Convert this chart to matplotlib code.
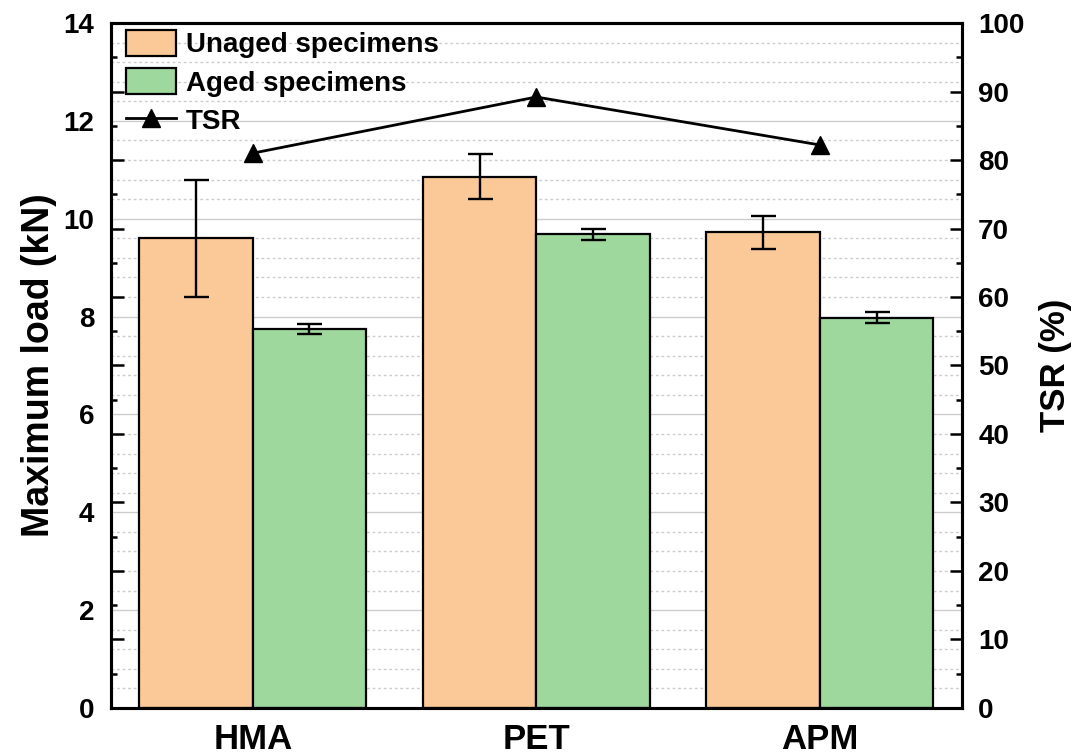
import matplotlib
matplotlib.use("Agg")
import matplotlib.pyplot as plt
from matplotlib.ticker import MultipleLocator
from matplotlib.patches import Patch
from matplotlib.lines import Line2D
import numpy as np

plt.rcParams['font.family'] = ['Liberation Sans', 'DejaVu Sans']
plt.rcParams['font.weight'] = 'bold'

categories = ["HMA", "PET", "APM"]
unaged = [9.60, 10.86, 9.72]
unaged_err = [1.19, 0.46, 0.34]
aged = [7.75, 9.68, 7.98]
aged_err = [0.10, 0.11, 0.11]
tsr = [81.0, 89.2, 82.2]

c_unaged = '#FBC897'
c_aged = '#9FD89D'

fig = plt.figure(figsize=(10.78, 7.55), dpi=100)
ax = fig.add_axes([0.103, 0.0623, 0.789, 0.9072])
x = np.arange(len(categories))
w = 0.4

ax.set_axisbelow(True)
ekw = dict(elinewidth=1.7, capthick=1.7, ecolor='black')
ax.bar(x - w/2, unaged, w, color=c_unaged, edgecolor='black', linewidth=1.6,
       yerr=unaged_err, capsize=9, error_kw=ekw, zorder=2)
ax.bar(x + w/2, aged, w, color=c_aged, edgecolor='black', linewidth=1.6,
       yerr=aged_err, capsize=9, error_kw=ekw, zorder=2)

ax.set_xlim(-0.5, 2.5)
ax.set_ylim(0, 14)
ax.yaxis.set_major_locator(MultipleLocator(2))
ax.yaxis.set_minor_locator(MultipleLocator(0.4))
ax.grid(True, which='major', axis='y', color='#cccccc', linestyle='-', linewidth=1.0)
ax.grid(True, which='minor', axis='y', color='#cccccc', linestyle=(0, (2, 2)), linewidth=1.0)
ax.set_xticks(x)
ax.set_xticklabels(categories, fontsize=25, fontweight='bold')
ax.tick_params(axis='x', length=0, pad=11)
ax.tick_params(axis='y', which='both', length=0, labelsize=20, pad=12)
ax.set_ylabel('Maximum load (kN)', fontsize=27, fontweight='bold', labelpad=5)
for s in ax.spines.values():
    s.set_linewidth(2.2)

ax2 = ax.twinx()
ax2.plot(x, tsr, color='black', linewidth=2.0, marker='^', markersize=13, zorder=5)
ax2.set_ylim(0, 100)
ax2.yaxis.set_major_locator(MultipleLocator(10))
ax2.yaxis.set_minor_locator(MultipleLocator(5))
ax2.yaxis.set_ticks_position('both')
ax2.tick_params(axis='y', which='major', direction='in', length=9, width=1.8,
                labelsize=20, left=True, right=True, labelleft=False, labelright=True, pad=12)
ax2.tick_params(axis='y', which='minor', direction='in', length=4.5, width=1.8, left=True, right=True)
ax2.set_ylabel('TSR (%)', fontsize=25, fontweight='bold', labelpad=10)
for s in ax2.spines.values():
    s.set_linewidth(2.2)

handles = [Patch(facecolor=c_unaged, edgecolor='black', linewidth=1.6, label='Unaged specimens'),
           Patch(facecolor=c_aged, edgecolor='black', linewidth=1.6, label='Aged specimens'),
           Line2D([0], [0], color='black', linewidth=2.0, marker='^', markersize=13, label='TSR')]
leg = ax2.legend(handles=handles, loc='upper left', bbox_to_anchor=(0.0094, 1.0), frameon=False,
                 prop={'weight': 'bold', 'size': 20}, handlelength=1.8, handleheight=1.05,
                 handletextpad=0.35, labelspacing=0.36, borderaxespad=0.0, borderpad=0.25)

fig.savefig('out.png', dpi=100)
